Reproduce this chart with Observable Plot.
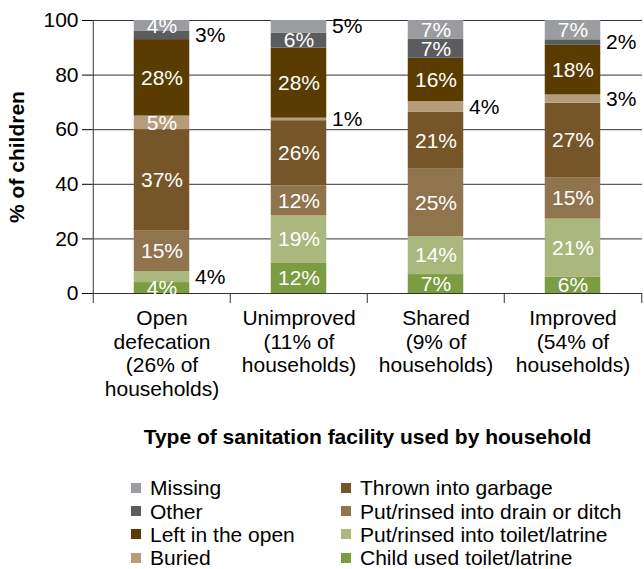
<!DOCTYPE html>
<html><head><meta charset="utf-8">
<script src="https://cdn.jsdelivr.net/npm/d3@7"></script>
<script src="https://cdn.jsdelivr.net/npm/@observablehq/plot@0.6"></script>
<style>
body{margin:0;background:#fff;font-family:"Liberation Sans",Arial,sans-serif;}
#legend{display:grid;grid-auto-flow:column;grid-template-rows:repeat(4,23.4px);grid-template-columns:210px auto;padding-left:131px;margin-top:21px;font-size:21px;color:#000;line-height:1}
.item{display:flex;align-items:center}
.sw{width:10px;height:10px;margin-right:9px;flex:none}
</style></head><body><div id="chart"></div><div id="legend"></div>
<script>
const categories = ["Open defecation", "Unimproved", "Shared", "Improved"];
const categoryLabels = ["Open\ndefecation\n(26% of\nhouseholds)", "Unimproved\n(11% of\nhouseholds)", "Shared\n(9% of\nhouseholds)", "Improved\n(54% of\nhouseholds)"];
const series = ["Child used toilet/latrine", "Put/rinsed into toilet/latrine", "Put/rinsed into drain or ditch", "Thrown into garbage", "Buried", "Left in the open", "Other", "Missing"];
const colors = ["#7b9c41", "#aab87d", "#8f744d", "#765628", "#b59c7b", "#5a3b00", "#5b5c5e", "#9b9ca0"];
const childUsed = [4, 12, 7, 6];
const rinsedToilet = [4, 19, 14, 21];
const rinsedDrain = [15, 12, 25, 15];
const garbage = [37, 26, 21, 27];
const buried = [5, 1, 4, 3];
const leftOpen = [28, 28, 16, 18];
const other = [3, 6, 7, 2];
const missing = [4, 5, 7, 7];
const seriesValues = [childUsed, rinsedToilet, rinsedDrain, garbage, buried, leftOpen, other, missing];
const outsideLabels = [
  ["Open defecation", "Put/rinsed into toilet/latrine"], ["Open defecation", "Other"],
  ["Unimproved", "Buried"], ["Unimproved", "Missing"],
  ["Shared", "Buried"], ["Improved", "Other"], ["Improved", "Buried"]
];
const yTicks = [0, 20, 40, 60, 80, 100];
const xTitle = "Type of sanitation facility used by household";
const yTitle = "% of children";

const W = 644, H = 455, mL = 92, mR = 2, mT = 20, mB = H - 293;
const plotH = H - mT - mB;
const half = (W - mL - mR) / categories.length / 2;
const barW = 56;
const inset = half - barW / 2;
const tickData = 10 / plotH;
const font = '"Liberation Sans", Arial, sans-serif';

const rows = [];
series.forEach((s, j) => categories.forEach((c, i) => rows.push({
  category: c, series: s, value: seriesValues[j][i],
  outside: outsideLabels.some(([oc, os]) => oc === c && os === s)
})));
const stackOpts = {x: "category", y: "value", z: "series", order: series, offset: "normalize"};

const chart = Plot.plot({
  width: W, height: H, marginLeft: mL, marginRight: mR, marginTop: mT, marginBottom: mB,
  style: {fontFamily: font, fontSize: "21px", background: "white", color: "black", overflow: "visible"},
  x: {domain: categories, padding: 0, axis: null},
  y: {domain: [0, 1], ticks: 5, tickSize: 10, tickPadding: 4, tickFormat: d => Math.round(d * 100), label: null},
  color: {domain: series, range: colors},
  marks: [
    Plot.ruleY(yTicks.map(d => d / 100), {stroke: "#333"}),
    Plot.barY(rows, Plot.stackY({...stackOpts, fill: "series", insetLeft: inset, insetRight: inset})),
    Plot.text(rows, Plot.stackY({...stackOpts, text: d => d.outside ? "" : d.value + "%", fill: "white"})),
    Plot.text(rows, Plot.stackY({...stackOpts, text: d => d.outside ? d.value + "%" : "", fill: "black", textAnchor: "start", dx: barW / 2 + 5})),
    Plot.ruleX([categories[0]], {dx: -half, y1: -tickData, y2: 1, stroke: "#333"}),
    Plot.ruleX(categories.slice(1), {dx: -half, y1: -tickData, y2: 0, stroke: "#333"}),
    Plot.ruleX([categories[categories.length - 1]], {dx: half, y1: -tickData, y2: 0, stroke: "#333"}),
    Plot.text(categories, {x: d => d, frameAnchor: "bottom", text: (d, i) => categoryLabels[i], lineAnchor: "top", dy: 15, lineHeight: 1.12}),
    Plot.text([xTitle], {frameAnchor: "bottom", dy: 150, fontWeight: "bold", text: d => d}),
    Plot.text([yTitle], {frameAnchor: "left", textAnchor: "middle", rotate: -90, dx: -75, fontWeight: "bold", text: d => d})
  ]
});
document.getElementById("chart").appendChild(chart);

const legendOrder = series.slice().reverse();
const legend = document.getElementById("legend");
legendOrder.forEach(s => {
  const item = document.createElement("div");
  item.className = "item";
  const sw = document.createElement("span");
  sw.className = "sw";
  sw.style.background = colors[series.indexOf(s)];
  const label = document.createElement("span");
  label.textContent = s;
  item.appendChild(sw); item.appendChild(label);
  legend.appendChild(item);
});
</script></body></html>
